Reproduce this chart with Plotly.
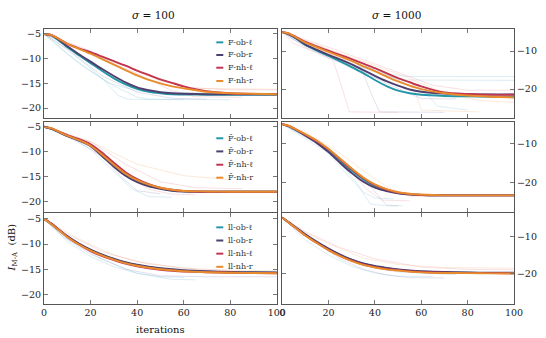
import plotly.graph_objects as go

# ---------------- data ----------------
ITER = [0, 3, 6, 10, 15, 20, 25, 30, 35, 40, 45, 50, 55, 60, 70, 80, 90, 100]
LEGEND_SUFFIX = ["ob-ℓ", "ob-r", "nh-ℓ", "nh-r"]
ROW_PREFIX = ["F", "F\u0304", "ll"]
TITLES = ["<i>σ</i> = 100", "<i>σ</i> = 1000"]
X_TICKS = [0, 20, 40, 60, 80, 100]
Y_TICKS_LEFT = [-5, -10, -15, -20]
Y_TICKS_RIGHT = [-10, -20]

# panel A: F, sigma=100
A_OB_L = [-5, -5.3, -6.2, -7.7, -9.3, -10.9, -12.5, -14.0, -15.2, -16.1, -16.7, -17.0, -17.2, -17.25, -17.3, -17.3, -17.3, -17.3]
A_OB_R = [-5, -5.2, -6.0, -7.5, -9.1, -10.6, -12.1, -13.5, -14.8, -15.8, -16.4, -16.8, -17.0, -17.1, -17.2, -17.2, -17.2, -17.2]
A_NH_L = [-5, -5.2, -5.9, -7.0, -7.9, -8.7, -9.6, -10.5, -11.4, -12.4, -13.3, -14.2, -14.9, -15.6, -16.6, -17.0, -17.15, -17.2]
A_NH_R = [-5, -5.2, -5.9, -7.0, -8.0, -9.0, -10.1, -11.2, -12.3, -13.4, -14.3, -15.0, -15.6, -16.0, -16.7, -17.0, -17.1, -17.2]
A_THIN = [
    ([0, 5, 15, 25, 32, 36, 60], [-5, -6.5, -10, -14, -17.5, -18.2, -18.3], 0),
    ([0, 5, 15, 30, 40, 45, 80], [-5, -7, -11, -15.5, -17.8, -18.2, -18.3], 0),
    ([0, 10, 25, 40, 55, 70], [-5, -8, -13.5, -16.8, -18.0, -18.2], 1),
    ([0, 15, 30, 45, 60, 80, 100], [-5, -7.5, -10.5, -13.5, -15.8, -16.3, -16.3], 2),
    ([0, 15, 35, 50, 65, 100], [-5, -8, -11.5, -14.5, -16.0, -16.2], 3),
    ([0, 20, 40, 55, 65, 85], [-5, -9, -13, -16.5, -17.7, -17.8], 2),
    ([0, 10, 20, 28, 40, 70], [-5, -9, -12.5, -15, -16.5, -17.0], 0),
]
# panel B: F, sigma=1000
B_OB_L = [-5, -5.6, -6.7, -8.4, -9.9, -11.3, -12.7, -14.2, -15.8, -17.6, -19.2, -20.4, -21.1, -21.5, -21.8, -21.9, -22.0, -22.0]
B_OB_R = [-5, -5.6, -6.6, -8.3, -9.7, -11.0, -12.2, -13.5, -15.0, -16.5, -17.9, -19.1, -20.1, -20.7, -21.2, -21.35, -21.4, -21.4]
B_NH_L = [-5, -5.4, -6.3, -7.6, -8.8, -9.9, -11.0, -12.1, -13.3, -14.5, -15.8, -17.1, -18.2, -19.3, -20.9, -21.3, -21.5, -21.5]
B_NH_R = [-5, -5.4, -6.4, -7.8, -9.0, -10.2, -11.4, -12.6, -14.0, -15.3, -16.7, -18.0, -19.1, -20.0, -21.1, -21.7, -22.0, -22.2]
B_THIN = [
    ([0, 5, 15, 30, 45, 55, 100], [-5, -7, -10, -13.5, -16, -16.7, -16.7], 0),
    ([0, 10, 25, 40, 52, 100], [-5, -8.5, -12.5, -15.5, -17.6, -17.7], 0),
    ([0, 5, 15, 22, 26, 29, 50], [-5, -8, -10.5, -12.5, -20, -26, -26.1], 2),
    ([0, 10, 25, 35, 39, 42, 70], [-5, -9, -13, -16, -22, -26, -26.1], 1),
    ([0, 15, 35, 50, 57, 60, 85], [-5, -9.5, -14, -17.5, -20, -25.5, -26], 3),
    ([0, 20, 40, 55, 62, 67, 80], [-5, -10, -15, -19, -21, -24.5, -25.5], 0),
    ([0, 20, 45, 65, 80, 100], [-5, -9, -14.5, -19, -20.3, -20.3], 2),
    ([0, 20, 50, 70, 85, 100], [-5, -9.5, -16, -21, -23, -23.5], 3),
    ([0, 10, 30, 45, 60, 75], [-5, -8, -14, -18.5, -22.5, -22.6], 1),
]
# panel C: F-bar, sigma=100
C_OB_L = [-5, -5.4, -6.0, -6.8, -7.6, -8.6, -10.5, -12.6, -14.5, -15.8, -16.7, -17.3, -17.7, -17.9, -18.0, -18.0, -18.0, -18.0]
C_OB_R = [-5, -5.4, -6.0, -6.9, -7.8, -8.9, -10.9, -13.0, -14.8, -16.1, -16.9, -17.4, -17.8, -17.95, -18.0, -18.0, -18.0, -18.0]
C_NH_L = [-5, -5.3, -5.9, -6.7, -7.5, -8.5, -10.2, -12.2, -14.1, -15.5, -16.5, -17.2, -17.6, -17.85, -18.0, -18.0, -18.0, -18.0]
C_NH_R = [-5, -5.3, -5.9, -6.8, -7.7, -8.8, -10.6, -12.6, -14.4, -15.7, -16.6, -17.2, -17.6, -17.85, -17.95, -18.0, -18.0, -18.0]
C_THIN = [
    ([0, 10, 20, 30, 38, 45, 55], [-5, -7, -9.5, -14, -17.5, -19, -19.1], 0),
    ([0, 15, 25, 35, 45, 55, 65], [-5, -7.5, -10, -14.5, -17.5, -18.5, -18.6], 2),
    ([0, 20, 40, 60, 80], [-5, -8, -12.5, -14.8, -15.6], 3),
    ([0, 10, 25, 33, 40, 50], [-5, -6.5, -11, -15, -17.8, -18.4], 1),
    ([0, 20, 35, 50, 65, 85], [-5, -8, -12.5, -16, -17.2, -17.4], 2),
]
# panel D: F-bar, sigma=1000
D_OB_L = [-5, -5.6, -6.5, -7.8, -9.6, -11.8, -14.5, -17.0, -19.2, -20.9, -22.0, -22.7, -23.0, -23.2, -23.3, -23.3, -23.3, -23.3]
D_OB_R = [-5, -5.6, -6.6, -8.0, -9.9, -12.2, -15.0, -17.6, -19.8, -21.3, -22.2, -22.8, -23.1, -23.2, -23.3, -23.3, -23.3, -23.3]
D_NH_L = [-5, -5.5, -6.4, -7.7, -9.4, -11.5, -14.1, -16.6, -18.9, -20.6, -21.8, -22.6, -23.0, -23.2, -23.3, -23.3, -23.3, -23.3]
D_NH_R = [-5, -5.5, -6.4, -7.6, -9.3, -11.4, -13.9, -16.4, -18.7, -20.5, -21.7, -22.5, -22.9, -23.1, -23.3, -23.3, -23.3, -23.3]
D_THIN = [
    ([0, 15, 25, 32, 38, 45, 52], [-5, -10, -15, -20, -25.5, -26, -26], 0),
    ([0, 15, 28, 38, 45, 50], [-5, -9, -15, -21, -25.8, -26], 1),
    ([0, 10, 25, 35, 45, 55, 65], [-5, -7, -12.5, -17, -21, -23.5, -23.6], 3),
    ([0, 20, 30, 37, 43, 55], [-5, -11, -17.5, -22, -24.5, -24.7], 2),
    ([0, 20, 28, 35, 40, 48], [-5, -12.5, -18, -22.5, -24, -24.2], 0),
]
# panel E: ll, sigma=100
E_OB_L = [-5, -6.0, -7.1, -8.5, -10.0, -11.2, -12.2, -13.0, -13.7, -14.2, -14.6, -14.9, -15.1, -15.3, -15.5, -15.6, -15.65, -15.7]
E_OB_R = [-5, -5.9, -7.0, -8.4, -9.9, -11.1, -12.1, -12.9, -13.6, -14.1, -14.5, -14.8, -15.0, -15.2, -15.4, -15.55, -15.6, -15.65]
E_NH_L = [-5, -5.9, -7.0, -8.6, -10.1, -11.4, -12.4, -13.2, -13.9, -14.4, -14.8, -15.1, -15.3, -15.45, -15.6, -15.7, -15.75, -15.8]
E_NH_R = [-5, -6.0, -7.1, -8.6, -10.1, -11.3, -12.3, -13.1, -13.8, -14.3, -14.7, -15.0, -15.2, -15.4, -15.6, -15.7, -15.75, -15.8]
E_THIN = [
    ([0, 10, 20, 30, 40, 50, 60], [-5, -9.5, -12.5, -14.5, -15.8, -16.5, -16.6], 0),
    ([0, 10, 25, 40, 60, 80], [-5, -8, -11.5, -13.5, -14.8, -15.2], 2),
    ([0, 8, 20, 35, 50, 70, 100], [-5, -8.5, -12, -15, -16.3, -16.5, -16.5], 1),
    ([0, 15, 30, 45, 70, 100], [-5, -9, -12.2, -14, -15.2, -15.3], 3),
    ([0, 10, 25, 40, 55, 65], [-5, -9, -13, -15.8, -17, -17.1], 0),
]
# panel F: ll, sigma=1000
F_OB_L = [-5, -6.4, -7.8, -9.6, -11.6, -13.4, -15.0, -16.3, -17.3, -18.0, -18.5, -18.9, -19.2, -19.4, -19.6, -19.7, -19.75, -19.8]
F_OB_R = [-5, -6.3, -7.7, -9.5, -11.5, -13.3, -14.9, -16.2, -17.2, -17.9, -18.4, -18.8, -19.1, -19.3, -19.5, -19.6, -19.7, -19.7]
F_NH_L = [-5, -6.5, -7.9, -9.8, -11.8, -13.6, -15.2, -16.5, -17.5, -18.2, -18.7, -19.0, -19.3, -19.5, -19.7, -19.8, -19.8, -19.85]
F_NH_R = [-5, -6.4, -7.9, -9.8, -11.8, -13.7, -15.3, -16.6, -17.6, -18.3, -18.8, -19.1, -19.4, -19.6, -19.75, -19.8, -19.85, -19.9]
F_THIN = [
    ([0, 10, 20, 30, 40, 50, 65], [-5, -11, -15, -18, -19.8, -20.6, -20.7], 0),
    ([0, 10, 25, 40, 60, 80, 100], [-5, -8.8, -13, -16, -18.2, -18.8, -18.9], 2),
    ([0, 15, 25, 35, 45, 55, 70], [-5, -12, -16, -18.8, -20.3, -21, -21.1], 1),
    ([0, 10, 20, 35, 50, 70, 100], [-5, -9, -12, -15.8, -17.5, -18.3, -18.5], 3),
    ([0, 12, 25, 35, 50, 75], [-5, -10.5, -15.5, -17.8, -19.5, -20.2], 0),
]

Y_RANGES = [[-22, -4], [-27.6, -4.2], [-22, -4], [-27.5, -4.4], [-21.9, -3.9], [-28, -3.9]]

# ---------------- style ----------------
COLORS = ["#2596a8", "#4d3f6e", "#c2354f", "#e88b2c"]
THIN_COLORS = ["#7fbfd8", "#9a8fc0", "#e58fa0", "#f2b27a"]
FONT = "DejaVu Serif"
XD = [[0.0, 0.4954], [0.5067, 1.0]]
YD = [[0.6764, 1.0], [0.3356, 0.6629], [0.0, 0.3298]]

panels = [
    ([A_OB_L, A_OB_R, A_NH_L, A_NH_R], A_THIN),
    ([B_OB_L, B_OB_R, B_NH_L, B_NH_R], B_THIN),
    ([C_OB_L, C_OB_R, C_NH_L, C_NH_R], C_THIN),
    ([D_OB_L, D_OB_R, D_NH_L, D_NH_R], D_THIN),
    ([E_OB_L, E_OB_R, E_NH_L, E_NH_R], E_THIN),
    ([F_OB_L, F_OB_R, F_NH_L, F_NH_R], F_THIN),
]

fig = go.Figure()
layout = {}
for p, (curves, thin) in enumerate(panels):
    r, c = p // 2, p % 2
    sfx = "" if p == 0 else str(p + 1)
    xa, ya = "x" + sfx, "y" + sfx
    for xs, ys, ci in thin:
        fig.add_trace(go.Scatter(x=xs, y=ys, mode="lines", xaxis=xa, yaxis=ya,
                                 line=dict(color=THIN_COLORS[ci], width=0.8),
                                 opacity=0.35, showlegend=False, hoverinfo="skip"))
    for ys, col in zip(curves, COLORS):
        fig.add_trace(go.Scatter(x=ITER, y=ys, mode="lines", xaxis=xa, yaxis=ya,
                                 line=dict(color=col, width=1.9, shape="spline", smoothing=0.6),
                                 showlegend=False, hoverinfo="skip"))
    layout["xaxis" + sfx] = dict(
        domain=XD[c], anchor=ya, range=[0, 100], tickvals=X_TICKS, automargin=False,
        showticklabels=(r == 2), ticks="inside", ticklen=4, tickcolor="#777",
        showline=True, linecolor="#555", linewidth=1, mirror="ticks",
        showgrid=False, zeroline=False,
        tickfont=dict(family=FONT, size=9.5, color="#222"))
    layout["yaxis" + sfx] = dict(
        domain=YD[r], anchor=xa, range=Y_RANGES[p], automargin=False,
        tickvals=Y_TICKS_LEFT if c == 0 else Y_TICKS_RIGHT,
        side="left" if c == 0 else "right",
        ticks="inside", ticklen=4, tickcolor="#777",
        showline=True, linecolor="#555", linewidth=1, mirror="ticks",
        showgrid=False, zeroline=False,
        tickfont=dict(family=FONT, size=9.5, color="#222"))

annotations = []
shapes = []
# legends (left column panels)
LEG_Y = [[0.85, 0.708, 0.565, 0.416], [0.816, 0.67, 0.522, 0.378], [0.845, 0.7, 0.555, 0.41]]
for r in range(3):
    p = r * 2
    sfx = "" if p == 0 else str(p + 1)
    for k in range(4):
        yv = LEG_Y[r][k]
        shapes.append(dict(type="line", xref="x" + sfx + " domain", yref="y" + sfx + " domain",
                           x0=0.74, x1=0.77, y0=yv, y1=yv,
                           line=dict(color=COLORS[k], width=2)))
        annotations.append(dict(text=ROW_PREFIX[r] + "-" + LEGEND_SUFFIX[k],
                                xref="x" + sfx + " domain", yref="y" + sfx + " domain",
                                x=0.783, y=yv, xanchor="left", yanchor="middle", showarrow=False,
                                font=dict(family=FONT, size=8, color="#333")))
# column titles
for cx, tx in zip([0.2324, 0.749], TITLES):
    annotations.append(dict(text=tx, xref="paper", yref="paper", x=cx, y=1.051,
                            xanchor="center", yanchor="middle", showarrow=False,
                            font=dict(family=FONT, size=10.5, color="#111")))
annotations.append(dict(text="iterations", xref="paper", yref="paper", x=0.2473, y=-0.0945,
                        xanchor="center", yanchor="middle", showarrow=False,
                        font=dict(family=FONT, size=10, color="#111")))
annotations.append(dict(text="<i>I</i><sub>M-A</sub>  (dB)", xref="paper", yref="paper",
                        x=-0.0674, y=0.207, xanchor="center", yanchor="middle",
                        textangle=-90, showarrow=False,
                        font=dict(family=FONT, size=10, color="#111")))

fig.update_layout(
    width=546, height=338,
    margin=dict(l=43.7, r=32, t=29, b=34),
    paper_bgcolor="white", plot_bgcolor="white",
    showlegend=False,
    font=dict(family=FONT),
    annotations=annotations, shapes=shapes,
    **layout)

fig.write_html("out.html")
